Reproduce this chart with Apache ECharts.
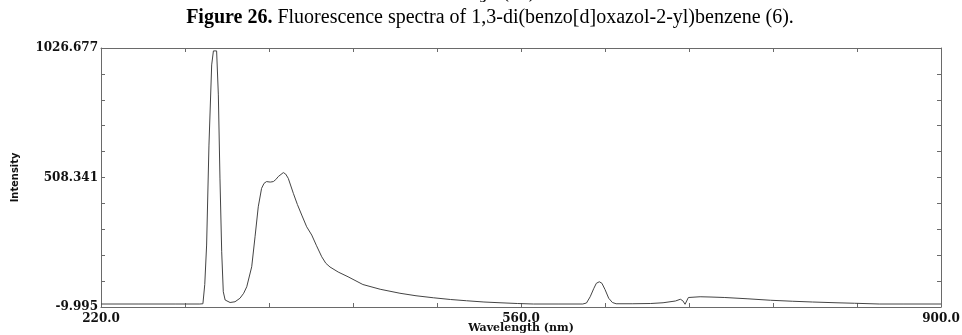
<!DOCTYPE html>
<html>
<head>
<meta charset="utf-8">
<script src="https://cdn.jsdelivr.net/npm/echarts@6/dist/echarts.min.js"></script>
<style>
html,body{margin:0;padding:0;background:#fff;}
#chart{width:962px;height:335px;}
</style>
</head>
<body>
<div id="chart"></div>
<script>
// Data
var wavelengths = [220,250,280,300,302.5,304,305.5,307.4,309.6,311,312.3,313.6,315,316.3,317.7,319,320.5,321.8,324.5,328.5,332.5,335.5,338,342,344.7,347.3,350,352,354,357,359.5,361.5,363.5,367.6,369.5,371.6,375.7,379,382.5,386.5,390.6,394.5,398.7,402,405.4,412,420,432,446,462,475,489,503,516,530,543,557,570,590,610,613,616,619,621,623.4,625.5,628,631,634,637,650,665,675,685,689,691,692.8,694,695.5,697,705,713,725,743,762,780,796,815,830,850,870,900];
var intensities = [2,2,2,2,3,80,238,638,959,1015,1022,1015,839,506,211,51,18,11,8,11,25,45,71,151,271,391,465,485,492,490,492,500,512,528,522,505,445,400,358,311,278,235,191,165,150,130,111,80,61,45,35,27,20,15,10,7,4,2,2,2,6,31,65,85,91,85,60,25,8,3,3,4,7,14,21,15,1,8,28,30,31,30,28,23,17,13,10,7,5,2,2,2];
var yTickLabels = ["-9.995","508.341","1026.677"];
var xTickLabels = ["220.0","560.0","900.0"];
var xMin = 220, xMax = 900, xInterval = 68;
var yMin = -9.995, yMax = 1026.677, yInterval = 103.6672;
var titleBold = "Figure 26.";
var titleRest = " Fluorescence spectra of 1,3-di(benzo[d]oxazol-2-yl)benzene (6).";
var xName = "Wavelength (nm)";
var yName = "Intensity";

var points = wavelengths.map(function(w,i){return [w,intensities[i]];});
var axisColor = '#6a6a6a';
var labelFont = {fontFamily:'DejaVu Serif', fontWeight:'bold', fontSize:12, color:'#111'};

function xLabel(v){
  var idx = Math.round((v - xMin)/xInterval);
  if (idx % 5 === 0) return xTickLabels[idx/5] || '';
  return '';
}
function yLabel(v){
  var idx = Math.round((v - yMin)/yInterval);
  if (idx % 5 === 0) return yTickLabels[idx/5] || '';
  return '';
}

var chart = echarts.init(document.getElementById('chart'), null, {renderer:'canvas'});
chart.setOption({
  animation:false,
  backgroundColor:'#fff',
  grid:{left:101, right:21, top:48, bottom:28, containLabel:false, outerBoundsMode:'none'},
  graphic:[
    {type:'text', left:'center', top:-8, style:{text:xName, fontFamily:'DejaVu Serif', fontWeight:'bold', fontSize:11, fill:'#111'}},
    {type:'text', x:490, y:18, style:{
      text:'{b|'+titleBold+'}{n|'+titleRest+'}',
      align:'center', verticalAlign:'middle',
      rich:{
        b:{fontFamily:'Liberation Serif', fontWeight:'bold', fontSize:20, fill:'#000'},
        n:{fontFamily:'Liberation Serif', fontSize:20, fill:'#000'}
      }
    }}
  ],
  xAxis:[
    {type:'value', min:xMin, max:xMax, interval:xInterval, position:'bottom',
     name:xName, nameLocation:'middle', nameGap:16, nameMoveOverlap:false,
     nameTextStyle:{fontFamily:'DejaVu Serif', fontWeight:'bold', fontSize:11, color:'#111'},
     axisLine:{show:true, onZero:false, lineStyle:{color:axisColor, width:1}},
     axisTick:{show:true, inside:true, length:4, lineStyle:{color:axisColor}},
     axisLabel:Object.assign({show:true, margin:6, formatter:xLabel, showMinLabel:true, showMaxLabel:true}, labelFont),
     splitLine:{show:false}},
    {type:'value', min:xMin, max:xMax, interval:xInterval, position:'top',
     axisLine:{show:true, onZero:false, lineStyle:{color:axisColor, width:1}},
     axisTick:{show:true, inside:true, length:4, lineStyle:{color:axisColor}},
     axisLabel:{show:false}, splitLine:{show:false}}
  ],
  yAxis:[
    {type:'value', min:yMin, max:yMax, interval:yInterval, position:'left',
     name:yName, nameLocation:'middle', nameGap:80, nameRotate:90, nameMoveOverlap:false,
     nameTextStyle:{fontFamily:'DejaVu Sans Condensed, DejaVu Sans', fontWeight:'bold', fontSize:11, color:'#111'},
     axisLine:{show:true, onZero:false, lineStyle:{color:axisColor, width:1}},
     axisTick:{show:true, inside:true, length:4, lineStyle:{color:axisColor}},
     axisLabel:Object.assign({show:true, margin:3, formatter:yLabel, showMinLabel:true, showMaxLabel:true}, labelFont),
     splitLine:{show:false}},
    {type:'value', min:yMin, max:yMax, interval:yInterval, position:'right',
     axisLine:{show:true, onZero:false, lineStyle:{color:axisColor, width:1}},
     axisTick:{show:true, inside:true, length:4, lineStyle:{color:axisColor}},
     axisLabel:{show:false}, splitLine:{show:false}}
  ],
  series:[{
    type:'line', data:points, xAxisIndex:0, yAxisIndex:0,
    showSymbol:false, symbol:'none', smooth:false,
    lineStyle:{color:'#444', width:1}
  }]
});
</script>
</body>
</html>
